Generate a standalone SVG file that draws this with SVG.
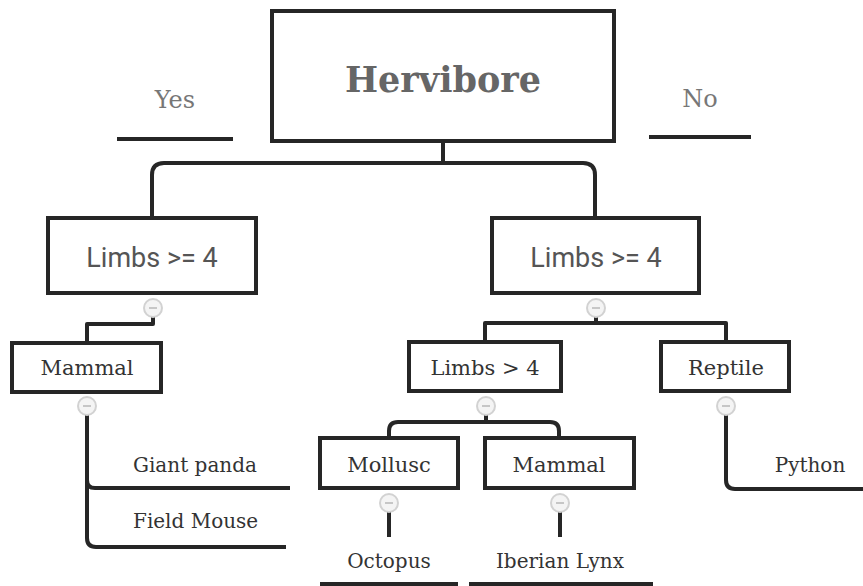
<svg xmlns="http://www.w3.org/2000/svg" width="863" height="586" viewBox="0 0 863 586">
  <style>
    .box { fill: #fff; stroke: #262626; stroke-width: 4; }
    .link { fill: none; stroke: #262626; stroke-width: 4; stroke-linejoin: round; }
    .slab { font-family: "DejaVu Serif", "Liberation Serif", serif; fill: #333; text-anchor: middle; }
    .title { font-size: 35px; font-weight: bold; fill: #666; }
    .branch { font-size: 24px; fill: #777; }
    .sans { font-family: Roboto, "Liberation Sans", sans-serif; fill: #555; text-anchor: middle; }
    .leaf { font-family: "DejaVu Serif", "Liberation Serif", serif; fill: #333; font-size: 20px; }
    .toggle circle { fill: #f4f4f4; stroke: #d2d2d2; stroke-width: 2; }
    .toggle line { stroke: #bbb; stroke-width: 1.6; }
  </style>
  <defs>
    <g id="toggle" class="toggle">
      <circle r="9"/>
      <line x1="-4" y1="0" x2="4" y2="0"/>
    </g>
  </defs>
  <rect width="863" height="586" fill="#fff"/>

  <!-- connectors -->
  <g id="connectors">
    <path class="link" d="M443 141 V163"/>
    <path class="link" d="M152 216 V175 Q152 163 164 163 H583 Q595 163 595 175 V216"/>
    <path class="link" d="M153 317 V324 H87 V343"/>
    <path class="link" d="M87 415 V538 Q87 547 96 547 H286"/>
    <path class="link" d="M87 480 Q87 488 95 488 H290"/>
    <path class="link" d="M596 317 V323 H485 V342"/>
    <path class="link" d="M596 323 H726 V342"/>
    <path class="link" d="M486 415 V422"/>
    <path class="link" d="M389 438 V431 Q389 422 398 422 H550 Q559 422 559 431 V438"/>
    <path class="link" d="M389 512 V537"/>
    <path class="link" d="M560 512 V537"/>
    <path class="link" d="M726 415 V480 Q726 489 735 489 H863"/>
    <path class="link" d="M117 139 H233"/>
    <path class="link" d="M649 137 H751"/>
    <path class="link" d="M320 584 H458"/>
    <path class="link" d="M469 584 H653"/>
  </g>

  <!-- root -->
  <g id="root">
    <rect class="box" x="272" y="11" width="342" height="130"/>
    <text class="slab title" x="443" y="92">Hervibore</text>
  </g>
  <g id="label-yes">
    <text class="slab branch" x="175" y="108">Yes</text>
  </g>
  <g id="label-no">
    <text class="slab branch" x="700" y="107">No</text>
  </g>

  <!-- second level -->
  <g id="limbs-yes">
    <rect class="box" x="48" y="218" width="208" height="75"/>
    <text class="sans" x="152" y="267" font-size="27">Limbs &gt;= 4</text>
  </g>
  <g id="limbs-no">
    <rect class="box" x="492" y="218" width="207" height="75"/>
    <text class="sans" x="596" y="267" font-size="27">Limbs &gt;= 4</text>
  </g>

  <!-- third level -->
  <g id="mammal-left">
    <rect class="box" x="12" y="343" width="149" height="49"/>
    <text class="slab" x="87" y="375" font-size="21">Mammal</text>
  </g>
  <g id="limbs-gt4">
    <rect class="box" x="409" y="342" width="152" height="49"/>
    <text class="slab" x="485" y="375" font-size="21">Limbs &gt; 4</text>
  </g>
  <g id="reptile">
    <rect class="box" x="661" y="342" width="128" height="49"/>
    <text class="slab" x="726" y="375" font-size="21">Reptile</text>
  </g>

  <!-- fourth level -->
  <g id="mollusc">
    <rect class="box" x="320" y="438" width="138" height="50"/>
    <text class="slab" x="389" y="472" font-size="21">Mollusc</text>
  </g>
  <g id="mammal-right">
    <rect class="box" x="485" y="438" width="149" height="50"/>
    <text class="slab" x="559" y="472" font-size="21">Mammal</text>
  </g>

  <!-- leaves -->
  <g id="giant-panda"><text class="leaf" x="133" y="472">Giant panda</text></g>
  <g id="field-mouse"><text class="leaf" x="133" y="528">Field Mouse</text></g>
  <g id="python"><text class="leaf" x="810" y="472" text-anchor="middle">Python</text></g>
  <g id="octopus"><text class="leaf" x="389" y="568" text-anchor="middle">Octopus</text></g>
  <g id="iberian-lynx"><text class="leaf" x="560" y="568" text-anchor="middle">Iberian Lynx</text></g>

  <!-- collapse toggles -->
  <g id="toggles">
    <use href="#toggle" x="153" y="308"/>
    <use href="#toggle" x="87" y="406"/>
    <use href="#toggle" x="596" y="308"/>
    <use href="#toggle" x="486" y="406"/>
    <use href="#toggle" x="726" y="406"/>
    <use href="#toggle" x="389" y="503"/>
    <use href="#toggle" x="560" y="503"/>
  </g>
</svg>
